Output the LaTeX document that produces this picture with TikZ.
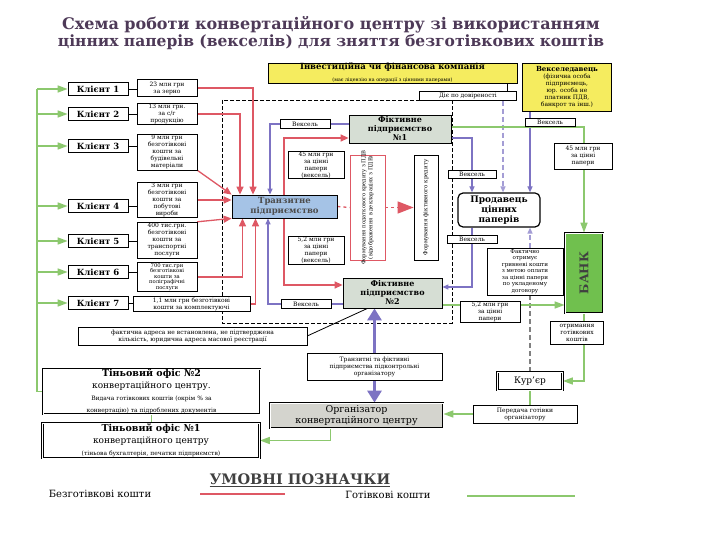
\documentclass[tikz,border=0pt]{standalone}
\usepackage{fontspec}
\setmainfont{DejaVu Serif}
\usetikzlibrary{arrows.meta,positioning}

\definecolor{nocashred}{RGB}{222,88,100}
\definecolor{cashgreen}{RGB}{140,200,110}
\definecolor{papblue}{RGB}{125,115,195}
\definecolor{transblue}{RGB}{165,195,230}
\definecolor{fictgray}{RGB}{214,222,212}
\definecolor{invyellow}{RGB}{245,236,95}
\definecolor{bankgreen}{RGB}{112,192,78}
\definecolor{orggray}{RGB}{212,212,206}
\definecolor{titlecol}{RGB}{78,58,88}

\pgfdeclarelayer{background}
\pgfsetlayers{background,main}

\tikzset{
  lbl/.style={draw, fill=white, inner sep=0.5pt, align=center, font=\fontsize{6}{7}\selectfont},
  client/.style={draw, thick, fill=white, minimum width=60, minimum height=13, inner sep=0pt, font=\fontsize{8.5}{9}\selectfont\bfseries},
  sum/.style={lbl, minimum width=60},
  fict/.style={draw, thick, fill=fictgray, minimum width=102, minimum height=28, align=center, inner sep=0pt, font=\fontsize{8}{9}\selectfont\bfseries},
  office/.style={draw, thick, double, fill=white, align=center, inner sep=0pt, minimum width=217},
  nocash/.style={draw=nocashred, line width=1.3pt},
  nocashar/.style={nocash, -{Triangle[width=7pt,length=8pt]}},
  cash/.style={draw=cashgreen, line width=1.6pt},
  cashar/.style={cash, -{Triangle[width=7pt,length=10pt]}},
  paper/.style={draw=papblue, line width=1.2pt, -{Triangle[width=5pt,length=6pt]}},
  bigpaper/.style={draw=papblue, line width=3pt, -{Triangle[width=14pt,length=12pt]}},
  guide/.style={draw=gray, line width=1.2pt, dash pattern=on 5pt off 3pt},
}

\begin{document}
\begin{tikzpicture}[x=1pt,y=-1pt]
\useasboundingbox (0,0) rectangle (720,540);
\begin{pgfonlayer}{background}
\fill[white] (0,0) rectangle (720,540);
\end{pgfonlayer}

\node[font=\fontsize{16}{18}\selectfont\bfseries, text=titlecol] (title1) at (331,25) {Схема роботи конвертаційного центру зі використанням};
\node[font=\fontsize{15.5}{18}\selectfont\bfseries, text=titlecol] (title2) at (331,42) {цінних паперів (векселів) для зняття безготівкових коштів};

\node[draw, thick, fill=invyellow, minimum width=249, minimum height=20, align=center, inner sep=0pt] (inv) at (392.5,73) {{\fontsize{8.5}{9.5}\selectfont\bfseries Інвестиційна чи фінансова компанія}\\{\fontsize{4.8}{5.5}\selectfont (має ліцензію на операції з цінними паперами)}};
\node[lbl, minimum width=97, minimum height=9] (die) at (468,96) {Діє по довіреності};
\node[draw, thick, fill=invyellow, minimum width=89, minimum height=48, align=center, inner sep=0pt, font=\fontsize{6}{7}\selectfont] (veksd) at (567,87) {{\bfseries\fontsize{7}{7.5}\selectfont Векселедавець}\\(фізична особа\\підприємець,\\юр. особа не\\платник ПДВ,\\банкрот та інш.)};
\node[lbl, minimum width=50, minimum height=8] (vek0) at (550,122) {Вексель};

\foreach \i/\y in {1/89,2/114,3/146,4/206,5/241,6/272,7/303}
  \node[client] (cl\i) at (98,\y) {Клієнт \i};

\node[sum, minimum height=17] (a1) at (167,88) {23 млн грн\\за зерно};
\node[sum, minimum height=21] (a2) at (167,114) {13 млн грн.\\за с/г\\продукцію};
\node[sum, minimum height=36] (a3) at (167,152) {9 млн грн\\безготівкові\\кошти за\\будівельні\\матеріали};
\node[sum, minimum height=35] (a4) at (167,200) {3 млн грн\\безготівкові\\кошти за\\побутові\\вироби};
\node[sum, minimum height=36, font=\fontsize{6}{6.8}\selectfont] (a5) at (167,240) {400 тис.грн.\\безготівкові\\кошти за\\транспортні\\послуги};
\node[sum, minimum height=29, font=\fontsize{5.3}{5.4}\selectfont] (a6) at (167,277) {700 тис.грн\\безготівкові\\кошти за\\поліграфічні\\послуги};
\node[sum, minimum width=117, minimum height=15] (a7) at (191.5,304) {1,1 млн грн безготівкові\\кошти за комплектуючі};

\node[draw, thick, fill=transblue, minimum width=105, minimum height=23, align=center, inner sep=0pt, font=\fontsize{8.5}{9.5}\selectfont\bfseries, text=black!70] (tr) at (284.5,206.5) {Транзитне\\підприємство};
\node[fict] (f1) at (400,129) {Фіктивне\\підприємство\\№1};
\node[fict, minimum width=99, minimum height=30] (f2) at (392.5,293) {Фіктивне\\підприємство\\№2};

\node[lbl, minimum width=50, minimum height=9] (vek1) at (305,124) {Вексель};
\node[lbl, minimum width=56, minimum height=26] (s45) at (316,165) {45 млн грн\\за цінні\\папери\\(вексель)};
\node[lbl, minimum width=56, minimum height=28] (s52) at (316,250) {5,2 млн грн\\за цінні\\папери\\(вексель)};
\node[lbl, minimum width=50, minimum height=9] (vek2) at (306,304) {Вексель};

\node[draw=nocashred, thick, fill=white, minimum width=35, minimum height=105] (vt1) at (367.5,207.5) {};
\node[rotate=90, align=center, font=\fontsize{5.3}{7}\selectfont] (vt1t) at (vt1.center) {Формування податкового кредиту з ПДВ\\(відображення в деклараціях з ПДВ)};
\node[draw, thick, fill=white, minimum width=24, minimum height=105] (vt2) at (426,207.5) {};
\node[rotate=90, font=\fontsize{5.5}{6}\selectfont] (vt2t) at (vt2.center) {Формування фіктивного кредиту};

\node[draw, very thick, rounded corners=5pt, fill=white, minimum width=82, minimum height=34, align=center, inner sep=0pt, font=\fontsize{9}{10}\selectfont\bfseries] (prod) at (499,210) {Продавець\\цінних\\паперів};
\node[lbl, minimum width=48, minimum height=8] (vek3) at (472,174) {Вексель};
\node[lbl, minimum width=50, minimum height=8] (vek4) at (472,239) {Вексель};
\node[lbl, minimum width=76, minimum height=47, font=\fontsize{5.6}{6.5}\selectfont] (fact) at (525,271.5) {Фактично\\отримує\\гривневі кошти\\з метою оплати\\за цінні папери\\по укладеному\\договору};

\node[draw, thick, double, fill=bankgreen, minimum width=38, minimum height=80] (bank) at (584,273) {};
\node[rotate=90, font=\fontsize{12}{13}\selectfont\bfseries, text=black!75] (bankt) at (bank.center) {БАНК};
\node[lbl, minimum width=58, minimum height=26] (s45b) at (583,156) {45 млн грн\\за цінні\\папери};
\node[lbl, minimum width=60, minimum height=21] (s52b) at (490,312) {5,2 млн грн\\за цінні\\папери};
\node[lbl, minimum width=53, minimum height=23] (otr) at (577,333) {отримання\\готівкових\\коштів};
\node[draw, thick, double, fill=white, minimum width=65, minimum height=18, font=\fontsize{9}{10}\selectfont] (kur) at (530,381) {Кур'єр};
\node[lbl, minimum width=104, minimum height=18] (per) at (525,414) {Передача готівки\\організатору};

\node[draw, thick, double, fill=orggray, minimum width=173, minimum height=25, align=center, inner sep=0pt, font=\fontsize{9.5}{10.5}\selectfont] (org) at (356.5,415.5) {Організатор\\конвертаційного центру};
\node[lbl, minimum width=135, minimum height=27] (pidk) at (374.5,366.5) {Транзитні та фіктивні\\підприємства підконтрольні\\організатору};
\node[lbl, minimum width=229, minimum height=18] (adr) at (192.5,336) {фактична адреса не встановлена, не підтверджена\\кількість, юридична адреса масової реєстрації};

\node[office, minimum height=37] (ofis2) at (151.5,391.5) {{\fontsize{9.5}{10}\selectfont\bfseries Тіньовий офіс №2}\\{\fontsize{9}{9.5}\selectfont конвертаційного центру.}\\{\fontsize{6}{6.5}\selectfont Видача готівкових коштів (окрім \% за}\\{\fontsize{6}{6.5}\selectfont конвертацію) та підроблених документів}};
\node[office, minimum height=35] (ofis1) at (151,440.5) {{\fontsize{9.5}{10}\selectfont\bfseries Тіньовий офіс №1}\\{\fontsize{9}{9.5}\selectfont конвертаційного центру}\\{\fontsize{6}{6.5}\selectfont (тіньова бухгалтерія, печатки підприємств)}};

\node[font=\fontsize{14.5}{15}\selectfont\bfseries, text=black!75] (legt) at (300,480) {\underline{УМОВНІ ПОЗНАЧКИ}};
\node[font=\fontsize{10}{11}\selectfont] (legr) at (100,494) {Безготівкові кошти};
\node[font=\fontsize{10}{11}\selectfont] (legg) at (388,495) {Готівкові кошти};
\coordinate (legr1) at (200,494);
\coordinate (legr2) at (285,494);
\coordinate (legg1) at (467,496);
\coordinate (legg2) at (575,496);
\coordinate (gl) at (37,89);

\begin{pgfonlayer}{background}
\draw[black, thick, dash pattern=on 4pt off 2pt] (222,100) rectangle (452,323);
% clients
\foreach \i in {1,...,7}
  \draw[thick] (cl\i.east) -- (cl\i.east -| a\i.west);
% non-cash
\draw[nocashar] (a1.east) -| ([xshift=-31.5pt]tr.north);
\draw[nocashar] (a2.east) -| ([xshift=-44.5pt]tr.north);
\draw[nocashar] (a3.south east) -- (tr.north west);
\draw[nocashar] (a4.east) -- (a4.east -| tr.west);
\draw[nocashar] (a5.north east) -- (tr.south west);
\draw[nocashar] (a6.east) -| ([xshift=-42pt]tr.south);
\draw[nocashar] (a7.east) -| ([xshift=-29pt]tr.south);
\draw[nocashar] ([xshift=-0.5pt]tr.north) |- ([yshift=-9pt]f1.west);
\draw[nocashar] ([xshift=-0.5pt]tr.south) |- ([yshift=8pt]f2.west);
\draw[nocash, dashed] (tr.east) -- (vt1.west);
\draw[nocash, dashed, -{Triangle[width=12pt,length=16pt]}] (vt1.east) -- (vt2.west);
% bills
\draw[paper] ([yshift=5pt]f1.west) -| ([xshift=-14.5pt]tr.north);
\draw[paper] ([yshift=-11pt]f2.west) -| ([xshift=-16.5pt]tr.south);
\draw[paper] ([yshift=-9pt]f1.east) -| ([xshift=-27pt]prod.north);
\draw[paper] ([xshift=-27pt]prod.south) |- ([yshift=6pt]f2.east);
\draw[paper] ([xshift=-37pt]veksd.south) -- ([xshift=31pt]prod.north);
\draw[guide, -{Triangle[width=5pt,length=6pt]}, papblue!70] ([xshift=35pt]die.south) -- ([xshift=4pt]prod.north);
\draw[thick] ([xshift=114.5pt]inv.south) -- ([xshift=39pt]die.north);
\draw[guide] (kur.north) -- (kur.north |- fact.south);
\draw[guide, -{Triangle[width=5pt,length=6pt]}, papblue!70] (kur.north |- fact.north) -- (kur.north |- prod.south);
\draw[bigpaper] (pidk.north) -- (pidk.north |- f2.south);
\draw[bigpaper] (pidk.south) -- (pidk.south |- org.north);
\draw[thick] (adr.east) -- ([xshift=-25pt]f2.south);
% cash
\draw[cash] (ofis2.west) -| (gl);
\foreach \i in {1,...,7}
  \draw[cashar] (cl\i.west -| gl) -- (cl\i.west);
\draw[cash] (ofis1.north -| ofis2.south) -- (ofis2.south);
\draw[cashar] ([xshift=-26pt]org.south) |- (ofis1.east);
\draw[cash] (kur.south) -- (kur.south |- per.north);
\draw[cashar] (per.west) -- (per.west -| org.east);
\draw[cashar] (bank.south) |- (kur.east);
\draw[cashar] ([yshift=-12pt]f2.east) -- ([yshift=-12pt]f2.east -| bank.west);
\draw[cashar] ([yshift=2pt]f1.east) -| (bank.north);
\end{pgfonlayer}

\draw[nocashred, line width=1.6pt] (legr1) -- (legr2);
\draw[cashgreen, line width=1.6pt] (legg1) -- (legg2);
\end{tikzpicture}
\end{document}
